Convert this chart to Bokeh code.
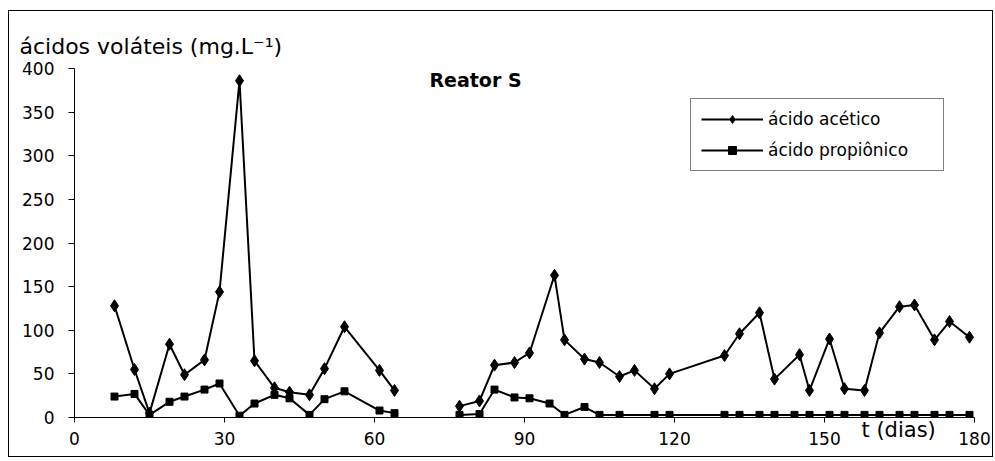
import numpy as np
from bokeh.plotting import figure
from bokeh.models import Range1d, FixedTicker, Label, Legend, LegendItem
from bokeh.embed import file_html
from bokeh.resources import INLINE

# Sampling days and concentrations (mg/L), first campaign
days_1 = [8, 12, 15, 19, 22, 26, 29, 33, 36, 40, 43, 47, 50, 54, 61, 64]
acetico_1 = [128, 55, 5, 84, 49, 66, 144, 386, 65, 34, 29, 26, 56, 104, 54, 31]
propionico_1 = [24, 27, 3, 18, 24, 32, 39, 2, 16, 26, 22, 3, 21, 30, 8, 5]

# Second campaign
days_acet_2 = [77, 81, 84, 88, 91, 96, 98, 102, 105, 109, 112, 116, 119, 130,
               133, 137, 140, 145, 147, 151, 154, 158, 161, 165, 168, 172, 175, 179]
acetico_2 = [13, 19, 60, 63, 74, 163, 89, 67, 63, 47, 54, 33, 50, 71,
             96, 120, 44, 72, 31, 90, 33, 31, 97, 127, 129, 89, 110, 92]
days_prop_2 = [77, 81, 84, 88, 91, 95, 98, 102, 105, 109, 116, 119, 130,
               133, 137, 140, 144, 147, 151, 154, 158, 161, 165, 168, 172, 175, 179]
propionico_2 = [3, 4, 32, 23, 22, 16, 3, 12, 3, 3, 3, 3, 3,
                3, 3, 3, 3, 3, 3, 3, 3, 3, 3, 3, 3, 3, 3]

x_ticks = [0, 30, 60, 90, 120, 150, 180]
y_ticks = [0, 50, 100, 150, 200, 250, 300, 350, 400]

FONT = "DejaVu Sans"


def join_campaigns(xa, ya, xb, yb):
    # NaN between the two campaigns breaks the line
    x = list(xa) + [np.nan] + list(xb)
    y = list(ya) + [np.nan] + list(yb)
    return x, y


p = figure(width=985, height=447, title=None,
           x_range=Range1d(0, 180), y_range=Range1d(0, 400),
           output_backend="svg", toolbar_location=None,
           min_border_left=65, min_border_right=20,
           min_border_top=57, min_border_bottom=41)
p.margin = (10, 2, 4, 8)
p.styles = {"border": "1px solid black"}
p.outline_line_color = None
p.xgrid.grid_line_color = None
p.ygrid.grid_line_color = None
p.background_fill_color = "white"
p.border_fill_color = "white"

for ax in (p.xaxis[0], p.yaxis[0]):
    ax.axis_line_color = "black"
    ax.axis_line_width = 1
    ax.major_tick_line_color = "black"
    ax.major_tick_in = 0
    ax.minor_tick_line_color = None
    ax.major_label_text_font = FONT
    ax.major_label_text_font_size = "17px"
    ax.major_label_text_color = "black"

p.xaxis.ticker = FixedTicker(ticks=x_ticks)
p.yaxis.ticker = FixedTicker(ticks=y_ticks)
p.xaxis.major_tick_out = 5
p.yaxis.major_tick_out = 6
p.xaxis.major_label_standoff = 9
p.yaxis.major_label_standoff = 14

xa, ya = join_campaigns(days_1, acetico_1, days_acet_2, acetico_2)
xp, yp = join_campaigns(days_1, propionico_1, days_prop_2, propionico_2)

la = p.line(xa, ya, line_color="black", line_width=2)
ma = p.scatter(xa, ya, marker="diamond", size=12, color="black")
lp = p.line(xp, yp, line_color="black", line_width=2)
mp = p.scatter(xp, yp, marker="square", size=7, color="black")

legend = Legend(items=[
    LegendItem(label="ácido acético", renderers=[la, ma]),
    LegendItem(label="ácido propiônico", renderers=[lp, mp]),
], location="top_right")
legend.margin = 30
legend.padding = 10
legend.spacing = 11
legend.glyph_width = 62
legend.glyph_height = 20
legend.label_height = 20
legend.label_width = 165
legend.label_standoff = 5
legend.label_text_font = FONT
legend.label_text_font_size = "17px"
legend.label_text_color = "black"
legend.border_line_color = "black"
legend.border_line_width = 1
legend.background_fill_alpha = 1.0
p.add_layout(legend)

p.add_layout(Label(x=80.2, y=387, text="Reator S",
                   text_font=FONT, text_font_size="19px", text_font_style="bold",
                   text_color="black", text_align="center", text_baseline="middle"))

# texts lying outside the plotting frame live in the top side panel,
# positioned in canvas pixels so they are not clipped to the frame
p.add_layout(Label(x=9, y=34, x_units="canvas", y_units="canvas",
                   text="ácidos voláteis (mg.L⁻¹)",
                   text_font=FONT, text_font_size="22px", text_color="black",
                   text_align="left", text_baseline="alphabetic"), "above")
p.add_layout(Label(x=851, y=417, x_units="canvas", y_units="canvas",
                   text="t (dias)",
                   text_font=FONT, text_font_size="21px", text_color="black",
                   text_align="left", text_baseline="middle"), "above")

open("out.html", "w").write(file_html(p, INLINE))
